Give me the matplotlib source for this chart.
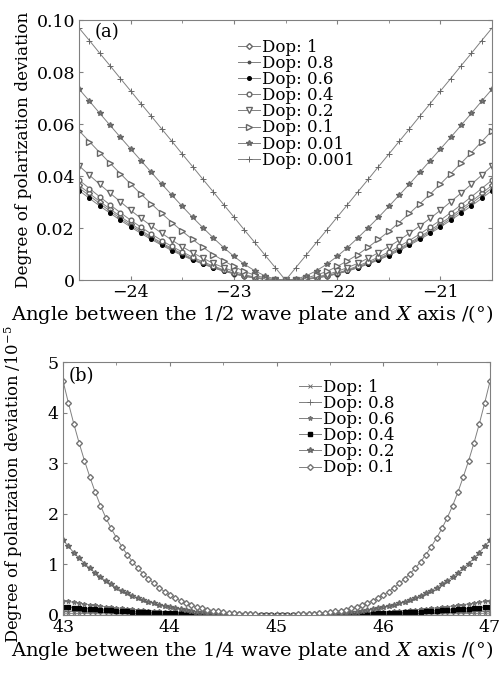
import numpy as np
import matplotlib
matplotlib.use('Agg')
import matplotlib.pyplot as plt
from matplotlib.ticker import MultipleLocator

plt.rcParams['font.family'] = ['DejaVu Serif']
plt.rcParams['mathtext.fontset'] = 'dejavuserif'

# ---- panel (a): 1/2 wave plate, angles -24.5 .. -20.5 step 0.1
angle_a = np.linspace(-24.5, -20.5, 41)
dop_a_labels = ['Dop: 1', 'Dop: 0.8', 'Dop: 0.6', 'Dop: 0.4', 'Dop: 0.2', 'Dop: 0.1', 'Dop: 0.01', 'Dop: 0.001']

a_dop1 = [0.0365, 0.0334, 0.0303, 0.0274, 0.0245, 0.0218, 0.0192, 0.0167, 0.0144, 0.0122,
          0.0102, 0.0083, 0.0066, 0.0051, 0.0038, 0.0026, 0.0017, 0.0010, 0.0004, 0.0001,
          0.0000,
          0.0001, 0.0004, 0.0010, 0.0017, 0.0026, 0.0038, 0.0051, 0.0066, 0.0083, 0.0102,
          0.0122, 0.0144, 0.0167, 0.0192, 0.0218, 0.0245, 0.0274, 0.0303, 0.0334, 0.0365]
a_dop08 = [0.0355, 0.0325, 0.0295, 0.0266, 0.0238, 0.0211, 0.0186, 0.0162, 0.0139, 0.0118,
           0.0098, 0.0080, 0.0064, 0.0049, 0.0036, 0.0025, 0.0016, 0.0009, 0.0004, 0.0001,
           0.0000,
           0.0001, 0.0004, 0.0009, 0.0016, 0.0025, 0.0036, 0.0049, 0.0064, 0.0080, 0.0098,
           0.0118, 0.0139, 0.0162, 0.0186, 0.0211, 0.0238, 0.0266, 0.0295, 0.0325, 0.0355]
a_dop06 = [0.0345, 0.0315, 0.0286, 0.0258, 0.0231, 0.0205, 0.0180, 0.0157, 0.0135, 0.0114,
           0.0095, 0.0078, 0.0062, 0.0048, 0.0035, 0.0025, 0.0016, 0.0009, 0.0004, 0.0001,
           0.0000,
           0.0001, 0.0004, 0.0009, 0.0016, 0.0025, 0.0035, 0.0048, 0.0062, 0.0078, 0.0095,
           0.0114, 0.0135, 0.0157, 0.0180, 0.0205, 0.0231, 0.0258, 0.0286, 0.0315, 0.0345]
a_dop04 = [0.0385, 0.0353, 0.0321, 0.0290, 0.0260, 0.0231, 0.0204, 0.0178, 0.0153, 0.0130,
           0.0109, 0.0089, 0.0071, 0.0055, 0.0040, 0.0028, 0.0018, 0.0010, 0.0005, 0.0001,
           0.0000,
           0.0001, 0.0005, 0.0010, 0.0018, 0.0028, 0.0040, 0.0055, 0.0071, 0.0089, 0.0109,
           0.0130, 0.0153, 0.0178, 0.0204, 0.0231, 0.0260, 0.0290, 0.0321, 0.0353, 0.0385]
a_dop02 = [0.0440, 0.0404, 0.0369, 0.0335, 0.0302, 0.0269, 0.0238, 0.0209, 0.0181, 0.0154,
           0.0129, 0.0106, 0.0085, 0.0065, 0.0049, 0.0034, 0.0022, 0.0012, 0.0006, 0.0001,
           0.0000,
           0.0001, 0.0006, 0.0012, 0.0022, 0.0034, 0.0049, 0.0065, 0.0085, 0.0106, 0.0129,
           0.0154, 0.0181, 0.0209, 0.0238, 0.0269, 0.0302, 0.0335, 0.0369, 0.0404, 0.0440]
a_dop01 = [0.0575, 0.0533, 0.0491, 0.0450, 0.0410, 0.0370, 0.0331, 0.0294, 0.0257, 0.0222,
           0.0188, 0.0157, 0.0127, 0.0099, 0.0075, 0.0053, 0.0034, 0.0020, 0.0009, 0.0002,
           0.0000,
           0.0002, 0.0009, 0.0020, 0.0034, 0.0053, 0.0075, 0.0099, 0.0127, 0.0157, 0.0188,
           0.0222, 0.0257, 0.0294, 0.0331, 0.0370, 0.0410, 0.0450, 0.0491, 0.0533, 0.0575]
a_dop001 = [0.0735, 0.0689, 0.0642, 0.0596, 0.0550, 0.0505, 0.0460, 0.0415, 0.0370, 0.0327,
            0.0284, 0.0242, 0.0202, 0.0163, 0.0126, 0.0092, 0.0062, 0.0037, 0.0017, 0.0004,
            0.0000,
            0.0004, 0.0017, 0.0037, 0.0062, 0.0092, 0.0126, 0.0163, 0.0202, 0.0242, 0.0284,
            0.0327, 0.0370, 0.0415, 0.0460, 0.0505, 0.0550, 0.0596, 0.0642, 0.0689, 0.0735]
a_dop0001 = [0.0970, 0.0922, 0.0873, 0.0825, 0.0776, 0.0728, 0.0679, 0.0631, 0.0582, 0.0534,
             0.0485, 0.0437, 0.0388, 0.0340, 0.0291, 0.0243, 0.0194, 0.0146, 0.0097, 0.0049,
             0.0000,
             0.0049, 0.0097, 0.0146, 0.0194, 0.0243, 0.0291, 0.0340, 0.0388, 0.0437, 0.0485,
             0.0534, 0.0582, 0.0631, 0.0679, 0.0728, 0.0776, 0.0825, 0.0873, 0.0922, 0.0970]

# ---- panel (b): 1/4 wave plate, angles 43 .. 47 step 0.05, values in 1e-5
angle_b = np.linspace(43, 47, 81)
dop_b_labels = ['Dop: 1', 'Dop: 0.8', 'Dop: 0.6', 'Dop: 0.4', 'Dop: 0.2', 'Dop: 0.1']

b_dop1 = [0.030, 0.028, 0.026, 0.025, 0.023, 0.021, 0.020, 0.019, 0.017, 0.016,
          0.015, 0.014, 0.012, 0.011, 0.011, 0.010, 0.009, 0.008, 0.007, 0.007,
          0.006, 0.005, 0.005, 0.004, 0.004, 0.003, 0.003, 0.002, 0.002, 0.002,
          0.001, 0.001, 0.001, 0.001, 0.001, 0.000, 0.000, 0.000, 0.000, 0.000,
          0.000,
          0.000, 0.000, 0.000, 0.000, 0.000, 0.001, 0.001, 0.001, 0.001, 0.001,
          0.002, 0.002, 0.002, 0.003, 0.003, 0.004, 0.004, 0.005, 0.005, 0.006,
          0.007, 0.007, 0.008, 0.009, 0.010, 0.011, 0.011, 0.012, 0.014, 0.015,
          0.016, 0.017, 0.019, 0.020, 0.021, 0.023, 0.025, 0.026, 0.028, 0.030]
b_dop08 = [0.080, 0.075, 0.070, 0.066, 0.061, 0.057, 0.053, 0.049, 0.046, 0.042,
           0.039, 0.036, 0.033, 0.031, 0.028, 0.026, 0.023, 0.021, 0.019, 0.017,
           0.016, 0.014, 0.012, 0.011, 0.010, 0.008, 0.007, 0.006, 0.005, 0.004,
           0.004, 0.003, 0.002, 0.002, 0.001, 0.001, 0.001, 0.000, 0.000, 0.000,
           0.000,
           0.000, 0.000, 0.000, 0.001, 0.001, 0.001, 0.002, 0.002, 0.003, 0.004,
           0.004, 0.005, 0.006, 0.007, 0.008, 0.010, 0.011, 0.012, 0.014, 0.016,
           0.017, 0.019, 0.021, 0.023, 0.026, 0.028, 0.031, 0.033, 0.036, 0.039,
           0.042, 0.046, 0.049, 0.053, 0.057, 0.061, 0.066, 0.070, 0.075, 0.080]
b_dop06 = [0.280, 0.262, 0.245, 0.229, 0.214, 0.199, 0.186, 0.172, 0.160, 0.148,
           0.137, 0.126, 0.116, 0.107, 0.098, 0.089, 0.082, 0.074, 0.067, 0.060,
           0.054, 0.049, 0.043, 0.038, 0.034, 0.029, 0.025, 0.022, 0.018, 0.015,
           0.013, 0.010, 0.008, 0.006, 0.005, 0.003, 0.002, 0.001, 0.001, 0.000,
           0.000,
           0.000, 0.001, 0.001, 0.002, 0.003, 0.005, 0.006, 0.008, 0.010, 0.013,
           0.015, 0.018, 0.022, 0.025, 0.029, 0.034, 0.038, 0.043, 0.049, 0.054,
           0.060, 0.067, 0.074, 0.082, 0.089, 0.098, 0.107, 0.116, 0.126, 0.137,
           0.148, 0.160, 0.172, 0.186, 0.199, 0.214, 0.229, 0.245, 0.262, 0.280]
b_dop04 = [0.160, 0.150, 0.140, 0.131, 0.122, 0.114, 0.106, 0.099, 0.091, 0.085,
           0.078, 0.072, 0.066, 0.061, 0.056, 0.051, 0.047, 0.042, 0.038, 0.035,
           0.031, 0.028, 0.025, 0.022, 0.019, 0.017, 0.014, 0.012, 0.011, 0.009,
           0.007, 0.006, 0.005, 0.004, 0.003, 0.002, 0.001, 0.001, 0.000, 0.000,
           0.000,
           0.000, 0.000, 0.001, 0.001, 0.002, 0.003, 0.004, 0.005, 0.006, 0.007,
           0.009, 0.011, 0.012, 0.014, 0.017, 0.019, 0.022, 0.025, 0.028, 0.031,
           0.035, 0.038, 0.042, 0.047, 0.051, 0.056, 0.061, 0.066, 0.072, 0.078,
           0.085, 0.091, 0.099, 0.106, 0.114, 0.122, 0.131, 0.140, 0.150, 0.160]
b_dop02 = [1.480, 1.351, 1.230, 1.118, 1.014, 0.918, 0.829, 0.746, 0.671, 0.601,
           0.537, 0.479, 0.425, 0.377, 0.333, 0.292, 0.256, 0.224, 0.195, 0.168,
           0.145, 0.124, 0.106, 0.090, 0.076, 0.063, 0.052, 0.043, 0.035, 0.028,
           0.022, 0.017, 0.013, 0.010, 0.007, 0.005, 0.003, 0.002, 0.001, 0.000,
           0.000,
           0.000, 0.001, 0.002, 0.003, 0.005, 0.007, 0.010, 0.013, 0.017, 0.022,
           0.028, 0.035, 0.043, 0.052, 0.063, 0.076, 0.090, 0.106, 0.124, 0.145,
           0.168, 0.195, 0.224, 0.256, 0.292, 0.333, 0.377, 0.425, 0.479, 0.537,
           0.601, 0.671, 0.746, 0.829, 0.918, 1.014, 1.118, 1.230, 1.351, 1.480]
b_dop01 = [4.62, 4.19, 3.78, 3.40, 3.05, 2.73, 2.43, 2.16, 1.92, 1.71,
           1.52, 1.35, 1.19, 1.05, 0.920, 0.810, 0.710, 0.620, 0.535, 0.458,
           0.390, 0.330, 0.277, 0.231, 0.191, 0.157, 0.127, 0.103, 0.082, 0.064,
           0.050, 0.038, 0.028, 0.020, 0.014, 0.009, 0.006, 0.003, 0.001, 0.000,
           0.000,
           0.000, 0.001, 0.003, 0.006, 0.009, 0.014, 0.020, 0.028, 0.038, 0.050,
           0.064, 0.082, 0.103, 0.127, 0.157, 0.191, 0.231, 0.277, 0.330, 0.390,
           0.458, 0.535, 0.620, 0.710, 0.810, 0.920, 1.05, 1.19, 1.35, 1.52,
           1.71, 1.92, 2.16, 2.43, 2.73, 3.05, 3.40, 3.78, 4.19, 4.62]

LC = '0.5'

fig = plt.figure(figsize=(5.01, 6.77), dpi=100)

# panel (a)
ax1 = fig.add_axes([0.158, 0.586, 0.824, 0.384])
styles_a = [
    dict(marker='D', ms=3.0, mfc='white', mec='0.4'),
    dict(marker='.', ms=3.5, mfc='0.3', mec='0.3'),
    dict(marker='o', ms=2.6, mfc='k', mec='k'),
    dict(marker='o', ms=3.4, mfc='white', mec='0.4'),
    dict(marker='v', ms=4.0, mfc='white', mec='0.4'),
    dict(marker='>', ms=4.0, mfc='white', mec='0.4'),
    dict(marker='*', ms=4.0, mfc='0.5', mec='0.4'),
    dict(marker='+', ms=4.0, mec='0.4', mew=0.7),
]
series_a = [a_dop1, a_dop08, a_dop06, a_dop04, a_dop02, a_dop01, a_dop001, a_dop0001]
for y, lab, st in zip(series_a, dop_a_labels, styles_a):
    ax1.plot(angle_a, y, color=LC, lw=0.7, label=lab, **st)

ax1.set_xlim(-24.5, -20.5)
ax1.set_ylim(0, 0.1)
ax1.xaxis.set_major_locator(MultipleLocator(1))
ax1.xaxis.set_minor_locator(MultipleLocator(0.5))
ax1.set_yticks([0, 0.02, 0.04, 0.06, 0.08, 0.10])
ax1.set_yticklabels(['0', '0.02', '0.04', '0.06', '0.08', '0.10'])
ax1.set_xlabel('Angle between the 1/2 wave plate and $X$ axis /(°)', fontsize=14)
ax1.xaxis.set_label_coords(0.419, -0.088)
ax1.set_ylabel('Degree of polarization deviation', fontsize=12.2, labelpad=3)
ax1.text(0.038, 0.99, '(a)', transform=ax1.transAxes, fontsize=13, va='top')
ax1.legend(loc='upper left', bbox_to_anchor=(0.385, 0.93), frameon=False, fontsize=12,
           handlelength=1.3, handletextpad=0.15, borderpad=0, labelspacing=-0.05,
           borderaxespad=0)

# panel (b)
ax2 = fig.add_axes([0.126, 0.092, 0.852, 0.373])
styles_b = [
    dict(marker='x', ms=2.5, mec='0.4', mew=0.6),
    dict(marker='+', ms=4.0, mec='0.4', mew=0.6),
    dict(marker='*', ms=3.2, mfc='0.45', mec='0.45'),
    dict(marker='s', ms=2.2, mfc='k', mec='k'),
    dict(marker='*', ms=3.8, mfc='0.5', mec='0.4'),
    dict(marker='D', ms=3.0, mfc='white', mec='0.45'),
]
series_b = [b_dop1, b_dop08, b_dop06, b_dop04, b_dop02, b_dop01]
for y, lab, st in zip(series_b, dop_b_labels, styles_b):
    ax2.plot(angle_b, y, color=LC, lw=0.7, label=lab, **st)

ax2.set_xlim(43, 47)
ax2.set_ylim(0, 5)
ax2.xaxis.set_major_locator(MultipleLocator(1))
ax2.xaxis.set_minor_locator(MultipleLocator(0.5))
ax2.yaxis.set_major_locator(MultipleLocator(1))
ax2.set_xlabel('Angle between the 1/4 wave plate and $X$ axis /(°)', fontsize=14)
ax2.xaxis.set_label_coords(0.443, -0.095)
ax2.set_ylabel('Degree of polarization deviation /10$^{-5}$', fontsize=11.8)
ax2.yaxis.set_label_coords(-0.089, 0.515)
ax2.text(0.012, 0.98, '(b)', transform=ax2.transAxes, fontsize=13, va='top')
ax2.legend(loc='upper left', bbox_to_anchor=(0.553, 0.935), frameon=False, fontsize=12,
           handlelength=1.3, handletextpad=0.15, borderpad=0, labelspacing=-0.05,
           borderaxespad=0)

for ax in (ax1, ax2):
    for sp in ax.spines.values():
        sp.set_color('0.5')
        sp.set_linewidth(0.8)
    ax.tick_params(which='both', direction='in', top=True, right=True, color='0.5',
                   labelsize=12.5, pad=3)
    ax.tick_params(which='major', length=3)
    ax.tick_params(which='minor', length=2)

fig.savefig('out.png', dpi=100)
